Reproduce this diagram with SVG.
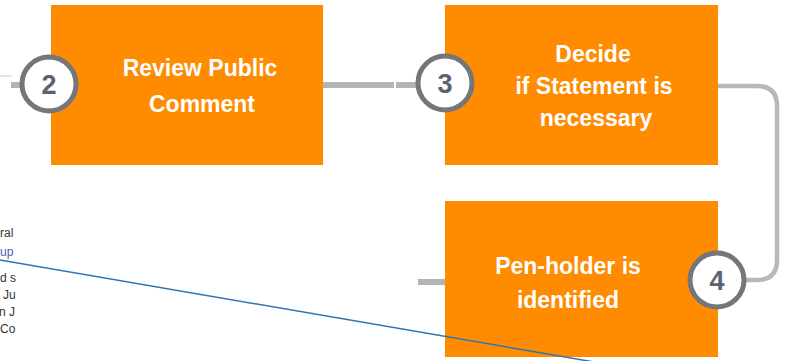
<svg xmlns="http://www.w3.org/2000/svg" width="787" height="361" viewBox="0 0 787 361">
<defs>
<style>
.box{fill:#ff8b00}
.lbl{font-family:"Liberation Sans",Arial,sans-serif;font-weight:bold;font-size:23px;fill:#ffffff;text-anchor:middle}
.ring{fill:#ffffff;stroke:#75767a;stroke-width:5}
.num{font-family:"Liberation Sans",Arial,sans-serif;font-weight:bold;font-size:27px;fill:#5b6272;text-anchor:middle}
.conn{fill:none;stroke:#b4b4b4;stroke-width:6}
.side{font-family:"Liberation Sans",Arial,sans-serif;font-size:12px;fill:#333333}
</style>
</defs>
<rect width="787" height="361" fill="#ffffff"/>
<g id="connectors">
<line x1="0" y1="76" x2="12" y2="76" stroke="#c8c8c8" stroke-width="1"/>
<line x1="11" y1="85" x2="22" y2="85" class="conn"/>
<line x1="323" y1="85" x2="394" y2="85" class="conn"/>
<line x1="396" y1="85" x2="418" y2="85" class="conn"/>
<path d="M718 86 H757 Q777 86 777 106 V260 Q777 280 757 280 H745" fill="none" stroke="#b8b8b8" stroke-width="4.5"/>
<line x1="418" y1="282" x2="446" y2="282" class="conn"/>
</g>
<g id="node-review">
<rect class="box" x="51" y="5" width="272" height="160"/>
<text class="lbl" x="200" y="76">Review Public</text>
<text class="lbl" x="202" y="112">Comment</text>
</g>
<g id="node-decide">
<rect class="box" x="445" y="5" width="273" height="160"/>
<text class="lbl" x="593" y="62">Decide</text>
<text class="lbl" x="594" y="94">if Statement is</text>
<text class="lbl" x="596" y="126">necessary</text>
</g>
<g id="node-penholder">
<rect class="box" x="445" y="201" width="273" height="156"/>
<text class="lbl" x="568" y="274">Pen-holder is</text>
<text class="lbl" x="568" y="308">identified</text>
</g>
<g id="badge-2">
<circle class="ring" cx="49" cy="84" r="27"/>
<text class="num" x="49" y="94">2</text>
</g>
<g id="badge-3">
<circle class="ring" cx="445" cy="83" r="27"/>
<text class="num" x="445" y="93">3</text>
</g>
<g id="badge-4">
<circle class="ring" cx="717" cy="280" r="27"/>
<text class="num" x="717" y="290">4</text>
</g>
<g id="side-text">
<text class="side" x="0" y="237">ral</text>
<text class="side" x="0" y="256" style="fill:#3c63b0">up</text>
<text class="side" x="0" y="282">d s</text>
<text class="side" x="3" y="299">Ju</text>
<text class="side" x="-1" y="316">n J</text>
<text class="side" x="0" y="333">Co</text>
</g>
<line x1="0" y1="260" x2="600" y2="363" stroke="#2e74b5" stroke-width="1.5"/>
</svg>
